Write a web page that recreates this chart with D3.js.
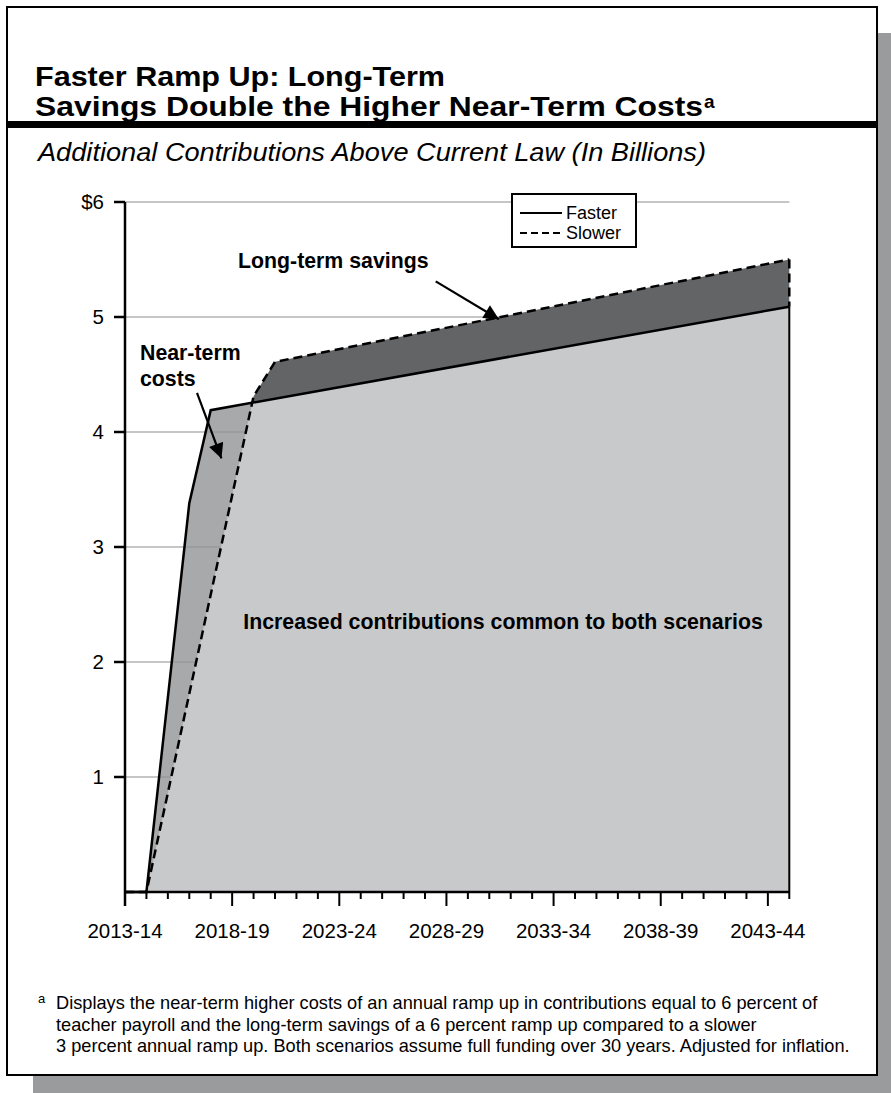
<!DOCTYPE html>
<html><head><meta charset="utf-8">
<script src="https://cdn.jsdelivr.net/npm/d3@7"></script>
<style>
body{margin:0;background:#fff}
svg{display:block}
text{font-family:"Liberation Sans",Arial,Helvetica,sans-serif;fill:#000}
</style>
</head><body>
<svg id="c" width="891" height="1093"></svg>
<script>
// ---- data ----
const years = ["2013-14","2014-15","2015-16","2016-17","2017-18","2018-19","2019-20","2020-21","2021-22","2022-23",
  "2023-24","2024-25","2025-26","2026-27","2027-28","2028-29","2029-30","2030-31","2031-32","2032-33",
  "2033-34","2034-35","2035-36","2036-37","2037-38","2038-39","2039-40","2040-41","2041-42","2042-43",
  "2043-44","2044-45"];
const xTickLabels = ["2013-14","2018-19","2023-24","2028-29","2033-34","2038-39","2043-44"];
const yTicks = [1,2,3,4,5,6];
// vertices of each line (years where the line changes slope)
const fasterYears  = ["2013-14","2014-15","2016-17","2017-18","2044-45"];
const fasterValues = [0, 0, 3.38, 4.19, 5.09];
const slowerYears  = ["2013-14","2014-15","2019-20","2020-21","2044-45"];
const slowerValues = [0, 0, 4.31, 4.61, 5.50];
const legendItems = ["Faster","Slower"];

// ---- layout ----
const svg = d3.select("#c");
const x = d3.scaleLinear().domain([0, years.length - 1]).range([125, 789.3]);
const y = d3.scaleLinear().domain([0, 6]).range([892, 202]);

const faster = fasterYears.map((yr, i) => ({i: years.indexOf(yr), v: fasterValues[i]}));
const slower = slowerYears.map((yr, i) => ({i: years.indexOf(yr), v: slowerValues[i]}));

// frame + shadow
svg.append("rect").attr("x", 33).attr("y", 33).attr("width", 870).attr("height", 1068).attr("fill", "#9a9b9d");
svg.append("rect").attr("x", 7).attr("y", 7).attr("width", 870).attr("height", 1068)
  .attr("fill", "#fff").attr("stroke", "#000").attr("stroke-width", 2);
svg.append("rect").attr("x", 7).attr("y", 121).attr("width", 870).attr("height", 7).attr("fill", "#000");

// title
svg.append("text").attr("x", 35).attr("y", 86).attr("font-size", 28).attr("font-weight", "bold")
  .attr("textLength", 410).attr("lengthAdjust", "spacingAndGlyphs")
  .text("Faster Ramp Up: Long-Term");
const t2 = svg.append("text").attr("x", 35).attr("y", 116).attr("font-weight", "bold");
t2.append("tspan").attr("font-size", 28).attr("textLength", 668).attr("lengthAdjust", "spacingAndGlyphs")
  .text("Savings Double the Higher Near-Term Costs");
t2.append("tspan").attr("font-size", 19).attr("dy", -8).attr("dx", 1).text("a");

svg.append("text").attr("x", 38).attr("y", 161).attr("font-size", 25).attr("font-style", "italic")
  .attr("textLength", 668).attr("lengthAdjust", "spacingAndGlyphs")
  .text("Additional Contributions Above Current Law (In Billions)");

// gridlines
const g = svg.append("g");
g.selectAll("line.grid").data(yTicks).join("line").attr("class", "grid")
  .attr("x1", x(0)).attr("x2", x(years.length - 1))
  .attr("y1", d => y(d)).attr("y2", d => y(d))
  .attr("stroke", "#c6c6c6").attr("stroke-width", 2);

// areas
const area = d3.area().x(d => x(d.i)).y0(y(0)).y1(d => y(d.v));
const line = d3.line().x(d => x(d.i)).y(d => y(d.v));
svg.append("clipPath").attr("id", "fclip").append("path").attr("d", area(faster));
g.append("path").attr("d", area(slower)).attr("fill", "#636466");
g.append("path").attr("d", area(faster)).attr("fill", "#a8a9ab");
// gridlines showing through the near-term area
svg.append("clipPath").attr("id", "nclip").append("path").attr("d", area(faster));
g.selectAll("line.grid2").data(yTicks).join("line").attr("class", "grid2")
  .attr("x1", x(0)).attr("x2", x(years.length - 1))
  .attr("y1", d => y(d)).attr("y2", d => y(d))
  .attr("stroke", "#9c9d9f").attr("stroke-width", 2)
  .attr("clip-path", "url(#nclip)");
g.append("path").attr("d", area(slower)).attr("fill", "#c8c9cb").attr("clip-path", "url(#fclip)");

// lines
const last = years.length - 1;
g.append("path").attr("d", line(faster)).attr("fill", "none").attr("stroke", "#000").attr("stroke-width", 2.5);
g.append("line").attr("x1", x(last)).attr("x2", x(last)).attr("y1", y(fasterValues[fasterValues.length-1])).attr("y2", y(0))
  .attr("stroke", "#000").attr("stroke-width", 2);
g.append("path").attr("d", line(slower)).attr("fill", "none").attr("stroke", "#000").attr("stroke-width", 2.5)
  .attr("stroke-dasharray", "9,5");
g.append("line").attr("x1", x(last)).attr("x2", x(last)).attr("y1", y(slowerValues[slowerValues.length-1])).attr("y2", y(fasterValues[fasterValues.length-1]))
  .attr("stroke", "#000").attr("stroke-width", 2.5).attr("stroke-dasharray", "9,5");

// axes
const ax = svg.append("g");
ax.append("line").attr("x1", x(0)).attr("x2", x(0)).attr("y1", y(6)).attr("y2", y(0) + 14)
  .attr("stroke", "#000").attr("stroke-width", 2.5);
ax.append("line").attr("x1", x(0) - 1).attr("x2", x(last)).attr("y1", y(0)).attr("y2", y(0))
  .attr("stroke", "#000").attr("stroke-width", 2.5);
ax.selectAll("line.yt").data(yTicks).join("line").attr("class", "yt")
  .attr("x1", x(0) - 11).attr("x2", x(0)).attr("y1", d => y(d)).attr("y2", d => y(d))
  .attr("stroke", "#000").attr("stroke-width", 2.5);
ax.selectAll("text.yl").data(yTicks).join("text").attr("class", "yl")
  .attr("x", 104).attr("y", d => y(d)).attr("dy", "0.36em").attr("text-anchor", "end").attr("font-size", 20.5)
  .text(d => d === 6 ? "$6" : String(d));
ax.selectAll("line.xt").data(d3.range(1, years.length)).join("line").attr("class", "xt")
  .attr("x1", d => x(d)).attr("x2", d => x(d)).attr("y1", y(0))
  .attr("y2", d => y(0) + (xTickLabels.includes(years[d]) ? 14 : 7))
  .attr("stroke", "#000").attr("stroke-width", 2);
ax.selectAll("text.xl").data(xTickLabels).join("text").attr("class", "xl")
  .attr("x", d => x(years.indexOf(d))).attr("y", 938).attr("text-anchor", "middle").attr("font-size", 20.5)
  .text(d => d);

// legend
const lg = svg.append("g");
lg.append("rect").attr("x", 512).attr("y", 194).attr("width", 124).attr("height", 53)
  .attr("fill", "#fff").attr("stroke", "#000").attr("stroke-width", 2);
legendItems.forEach((name, k) => {
  const yy = 213 + k * 20;
  lg.append("line").attr("x1", 520).attr("x2", 562).attr("y1", yy).attr("y2", yy)
    .attr("stroke", "#000").attr("stroke-width", 2).attr("stroke-dasharray", k ? "7,4" : null);
  lg.append("text").attr("x", 566).attr("y", yy).attr("dy", "0.36em").attr("font-size", 18).text(name);
});

// annotations
const defs = svg.append("defs");
defs.append("marker").attr("id", "ah").attr("viewBox", "0 0 10 10").attr("refX", 10).attr("refY", 5)
  .attr("markerWidth", 22).attr("markerHeight", 15).attr("markerUnits", "userSpaceOnUse")
  .attr("orient", "auto").append("path").attr("d", "M0,0L10,5L0,10Z").attr("fill", "#000");
const an = svg.append("g");
const arrow = (i0, v0, i1, v1) => an.append("line")
  .attr("x1", x(i0)).attr("y1", y(v0)).attr("x2", x(i1)).attr("y2", y(v1))
  .attr("stroke", "#000").attr("stroke-width", 2.2).attr("marker-end", "url(#ah)");
arrow(14.5, 5.31, 17.45, 4.98);
arrow(3.36, 4.34, 4.5, 3.77);
const T = (xx, yy, s, anchor) => an.append("text").attr("x", xx).attr("y", yy)
  .attr("text-anchor", anchor || "start").attr("font-size", 21.3).attr("font-weight", "bold").text(s);
T(238, 268, "Long-term savings");
T(140, 360, "Near-term");
T(140, 386, "costs");
T(503, 629, "Increased contributions common to both scenarios", "middle");

// footnote
const fn = svg.append("g");
fn.append("text").attr("x", 38).attr("y", 1003).attr("font-size", 13).text("a");
const notes = [
  "Displays the near-term higher costs of an annual ramp up in contributions equal to 6 percent of",
  "teacher payroll and the long-term savings of a 6 percent ramp up compared to a slower",
  "3 percent annual ramp up. Both scenarios assume full funding over 30 years. Adjusted for inflation."
];
notes.forEach((s, k) => fn.append("text").attr("x", 56).attr("y", 1009 + k * 21.5).attr("font-size", 18.2).text(s));
</script>
</body></html>
